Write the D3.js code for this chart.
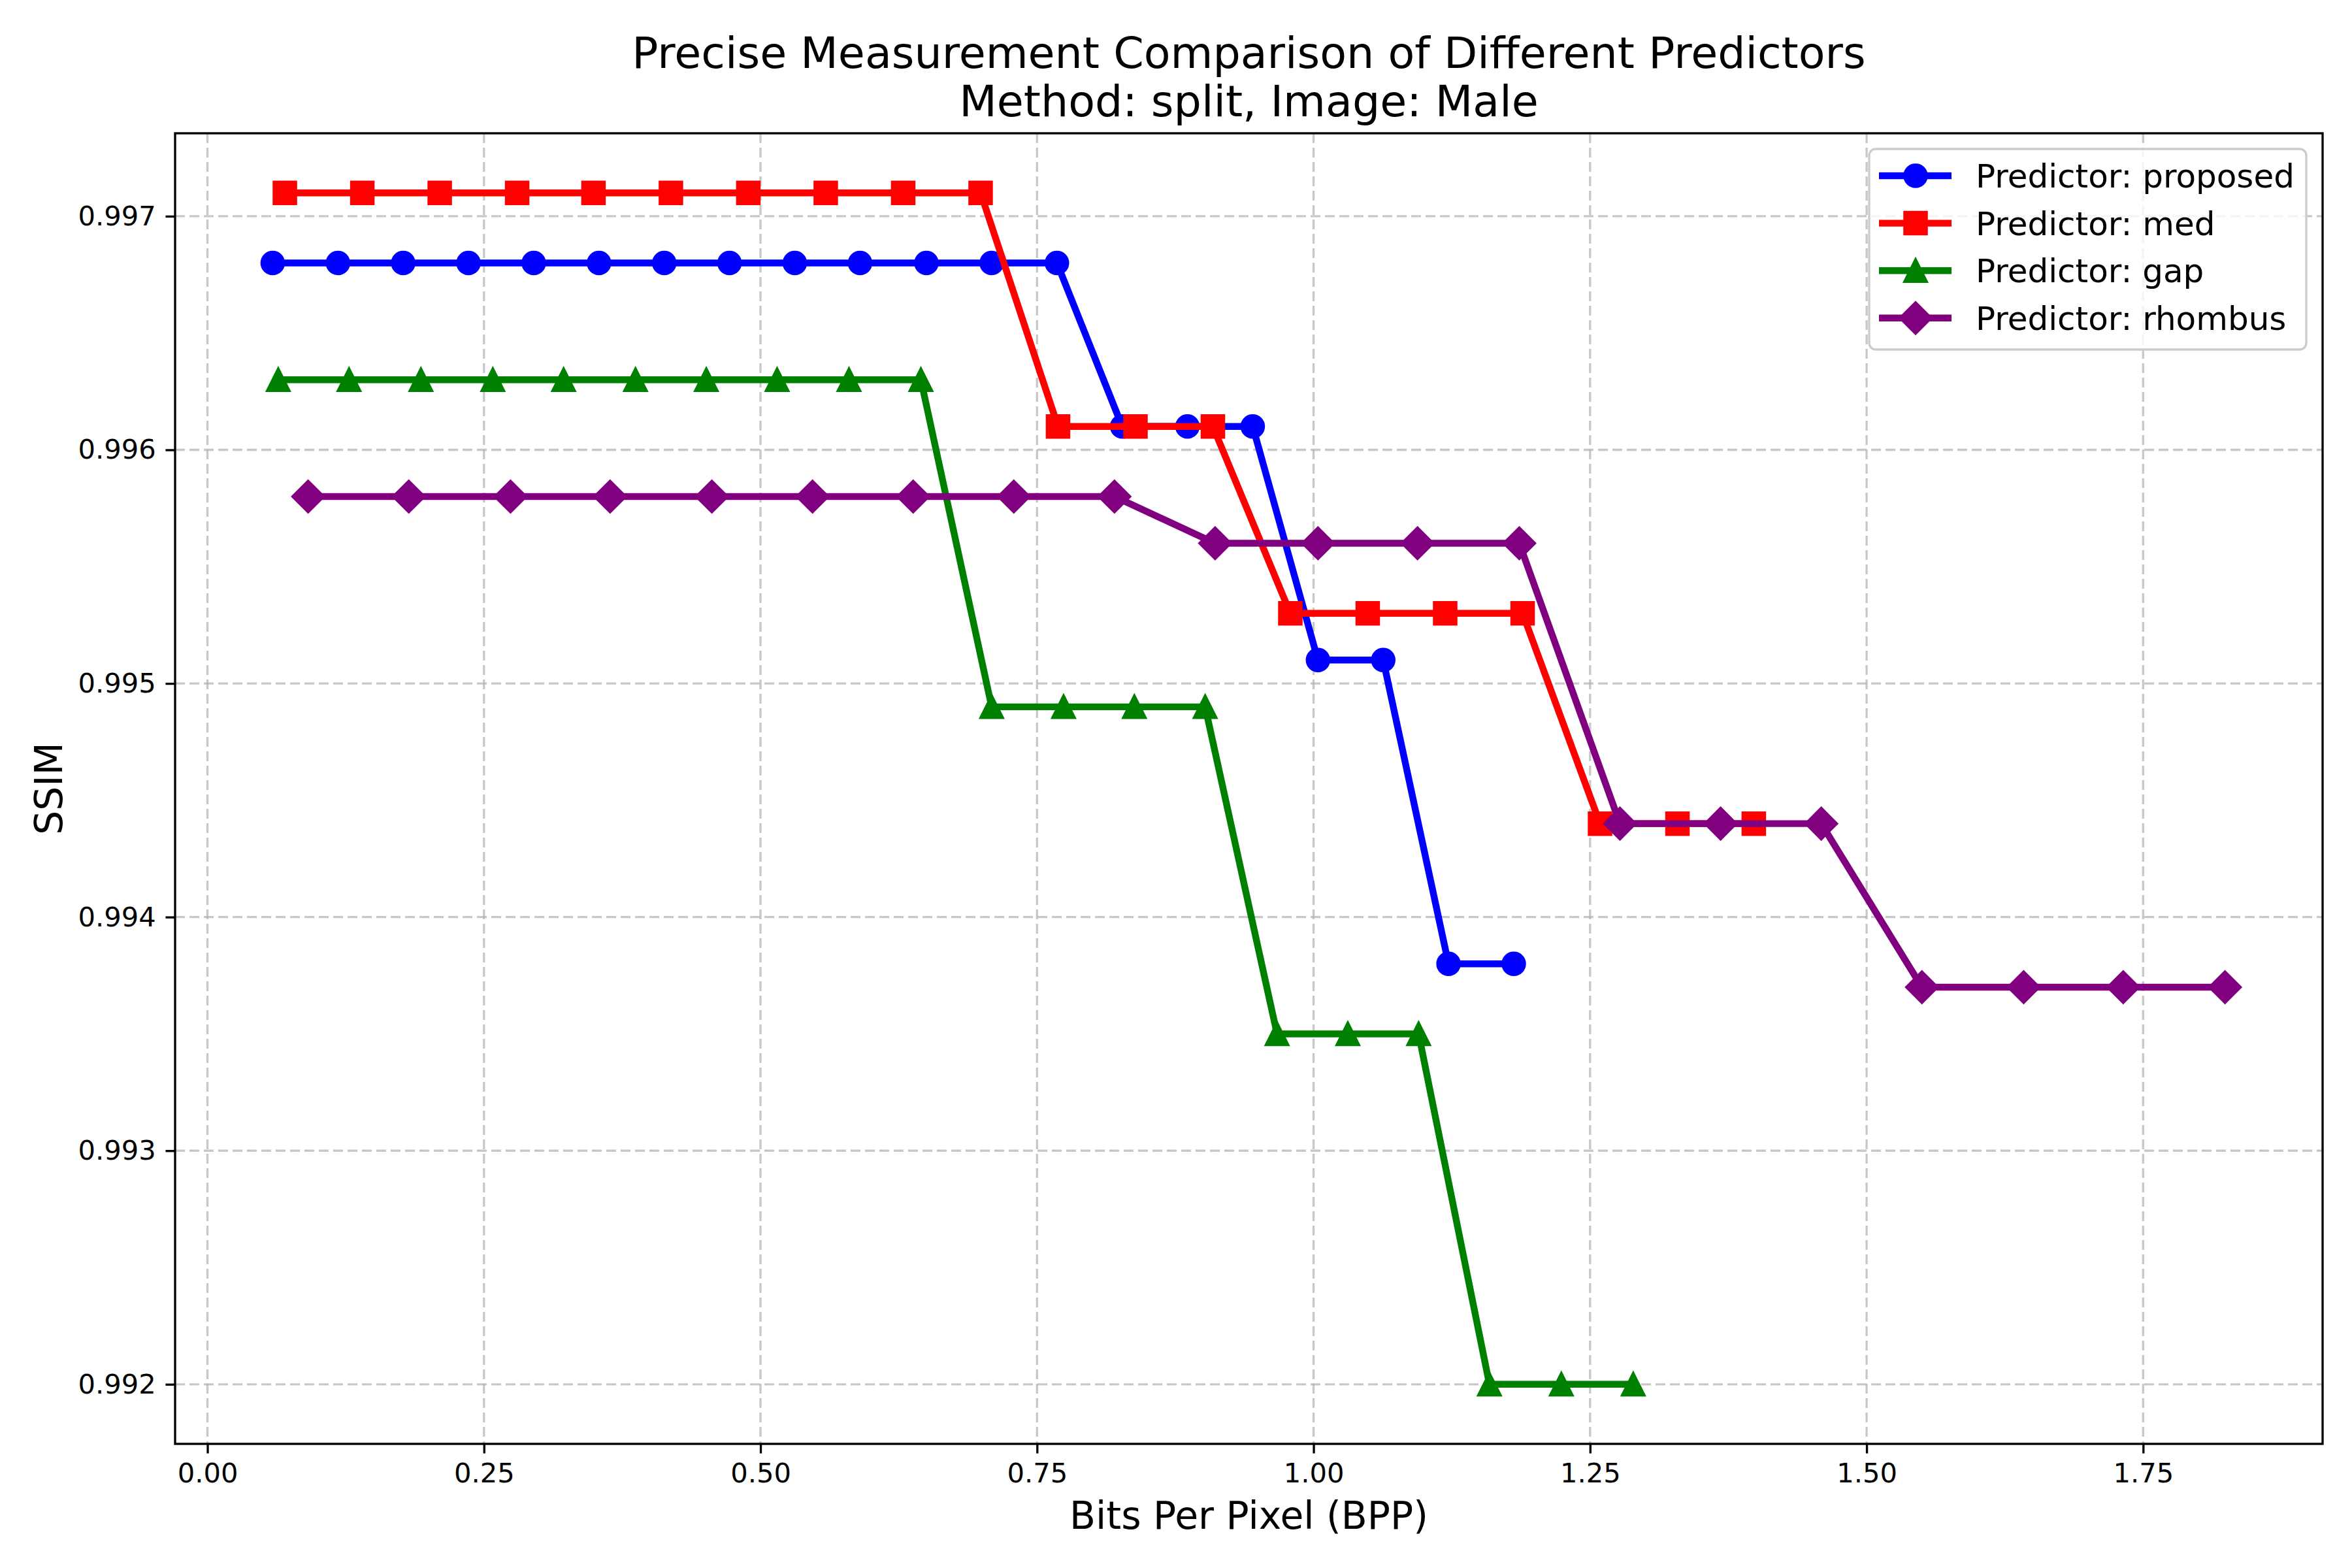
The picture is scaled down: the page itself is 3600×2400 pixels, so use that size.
<!DOCTYPE html>
<html>
<head>
<meta charset="utf-8">
<script src="https://cdn.jsdelivr.net/npm/d3@7"></script>
<style>
  body { margin: 0; background: #fff; }
  svg { display: block; font-family: "DejaVu Sans", sans-serif; }
</style>
</head>
<body>
<div id="chart"></div>
<script>
// data
const proposedX = [0.059, 0.118, 0.177, 0.236, 0.295, 0.354, 0.413, 0.472, 0.531, 0.590,
                   0.650, 0.709, 0.768, 0.827, 0.886, 0.945, 1.004, 1.063, 1.122, 1.181];
const proposedY = [0.9968, 0.9968, 0.9968, 0.9968, 0.9968, 0.9968, 0.9968, 0.9968, 0.9968, 0.9968,
                   0.9968, 0.9968, 0.9968, 0.9961, 0.9961, 0.9961, 0.9951, 0.9951, 0.9938, 0.9938];

const medX = [0.070, 0.140, 0.210, 0.280, 0.349, 0.419, 0.489, 0.559, 0.629, 0.699,
              0.769, 0.839, 0.909, 0.979, 1.049, 1.119, 1.189, 1.259, 1.329, 1.398];
const medY = [0.9971, 0.9971, 0.9971, 0.9971, 0.9971, 0.9971, 0.9971, 0.9971, 0.9971, 0.9971,
              0.9961, 0.9961, 0.9961, 0.9953, 0.9953, 0.9953, 0.9953, 0.9944, 0.9944, 0.9944];

const gapX = [0.064, 0.128, 0.193, 0.258, 0.322, 0.387, 0.451, 0.515, 0.580, 0.645,
              0.709, 0.774, 0.838, 0.902, 0.967, 1.031, 1.095, 1.159, 1.224, 1.289];
const gapY = [0.9963, 0.9963, 0.9963, 0.9963, 0.9963, 0.9963, 0.9963, 0.9963, 0.9963, 0.9963,
              0.9949, 0.9949, 0.9949, 0.9949, 0.9935, 0.9935, 0.9935, 0.9920, 0.9920, 0.9920];

const rhombusX = [0.091, 0.182, 0.274, 0.364, 0.456, 0.547, 0.638, 0.729, 0.820, 0.911,
                  1.004, 1.094, 1.186, 1.277, 1.368, 1.459, 1.550, 1.642, 1.732, 1.824];
const rhombusY = [0.9958, 0.9958, 0.9958, 0.9958, 0.9958, 0.9958, 0.9958, 0.9958, 0.9958, 0.9956,
                  0.9956, 0.9956, 0.9956, 0.9944, 0.9944, 0.9944, 0.9937, 0.9937, 0.9937, 0.9937];

const seriesNames = ["Predictor: proposed", "Predictor: med", "Predictor: gap", "Predictor: rhombus"];
const xTicks = [0.00, 0.25, 0.50, 0.75, 1.00, 1.25, 1.50, 1.75];
const yTicks = [0.992, 0.993, 0.994, 0.995, 0.996, 0.997];

const titleLines = ["Precise Measurement Comparison of Different Predictors", "Method: split, Image: Male"];
const xLabel = "Bits Per Pixel (BPP)";
const yLabel = "SSIM";

// series table
const series = [
    { name: seriesNames[0], xs: proposedX, ys: proposedY, color: "blue", marker: "circle" },
    { name: seriesNames[1], xs: medX, ys: medY, color: "red", marker: "square" },
    { name: seriesNames[2], xs: gapX, ys: gapY, color: "green", marker: "triangle" },
    { name: seriesNames[3], xs: rhombusX, ys: rhombusY, color: "purple", marker: "diamond" }
];

const width = 3600, height = 2400;
const plot = { left: 268, right: 3555, top: 204, bottom: 2210 };
const pt = 300 / 72;

// matplotlib-like 5% margins around the data
const allX = series.flatMap(s => s.xs);
const allY = series.flatMap(s => s.ys);
const xMin = d3.min(allX), xMax = d3.max(allX);
const yMin = d3.min(allY), yMax = d3.max(allY);
const xPad = (xMax - xMin) * 0.05, yPad = (yMax - yMin) * 0.05;

const x = d3.scaleLinear().domain([xMin - xPad, xMax + xPad]).range([plot.left, plot.right]);
const y = d3.scaleLinear().domain([yMin - yPad, yMax + yPad]).range([plot.bottom, plot.top]);

const svg = d3.select("#chart").append("svg")
    .attr("width", width)
    .attr("height", height);

svg.append("rect").attr("width", width).attr("height", height).attr("fill", "#fff");

// grid
const grid = svg.append("g").attr("stroke", "#b0b0b0").attr("stroke-opacity", 0.7)
    .attr("stroke-width", 0.8 * pt).attr("stroke-dasharray", "15,7");
grid.selectAll(".vgrid").data(xTicks).enter().append("line")
    .attr("x1", d => x(d)).attr("x2", d => x(d))
    .attr("y1", plot.top).attr("y2", plot.bottom);
grid.selectAll(".hgrid").data(yTicks).enter().append("line")
    .attr("x1", plot.left).attr("x2", plot.right)
    .attr("y1", d => y(d)).attr("y2", d => y(d));

// marker shapes, half size of 8pt markers
const h = 8 * pt / 2;
function markerPath(kind) {
    if (kind === "circle") return d3.symbol(d3.symbolCircle, Math.PI * h * h)();
    if (kind === "square") return `M${-h},${-h}H${h}V${h}H${-h}Z`;
    if (kind === "triangle") return `M0,${-h}L${-h},${h}L${h},${h}Z`;
    const d = h * Math.SQRT2;
    return `M0,${-d}L${d},0L0,${d}L${-d},0Z`;
}

const line = d3.line().x(d => x(d[0])).y(d => y(d[1]));

// each series: line then its markers
series.forEach(s => {
    const pts = s.xs.map((v, i) => [v, s.ys[i]]);
    const g = svg.append("g");
    g.append("path")
        .datum(pts)
        .attr("d", line)
        .attr("fill", "none")
        .attr("stroke", s.color)
        .attr("stroke-width", 2.5 * pt)
        .attr("stroke-linejoin", "round");
    g.selectAll(".mk").data(pts).enter().append("path")
        .attr("d", markerPath(s.marker))
        .attr("transform", d => `translate(${x(d[0])},${y(d[1])})`)
        .attr("fill", s.color)
        .attr("stroke", s.color)
        .attr("stroke-width", 1 * pt);
});

// axes
const xAxis = svg.append("g")
    .attr("transform", `translate(0,${plot.bottom})`)
    .call(d3.axisBottom(x).tickValues(xTicks).tickFormat(d3.format(".2f"))
        .tickSize(3.5 * pt).tickPadding(3.5 * pt).tickSizeOuter(0));
const yAxis = svg.append("g")
    .attr("transform", `translate(${plot.left},0)`)
    .call(d3.axisLeft(y).tickValues(yTicks).tickFormat(d3.format(".3f"))
        .tickSize(3.5 * pt).tickPadding(3.5 * pt).tickSizeOuter(0));
[xAxis, yAxis].forEach(a => {
    a.select(".domain").remove();
    a.selectAll(".tick line").attr("stroke", "#000").attr("stroke-width", 0.8 * pt);
    a.selectAll(".tick text").attr("fill", "#000")
        .style("font-size", (10 * pt) + "px")
        .style("font-family", "DejaVu Sans");
});

// spines
svg.append("rect")
    .attr("x", plot.left).attr("y", plot.top)
    .attr("width", plot.right - plot.left).attr("height", plot.bottom - plot.top)
    .attr("fill", "none").attr("stroke", "#000").attr("stroke-width", 0.8 * pt);

// labels
const cx = (plot.left + plot.right) / 2;
svg.append("text")
    .attr("x", cx).attr("y", 2340)
    .attr("text-anchor", "middle")
    .style("font-size", (14 * pt) + "px")
    .text(xLabel);
svg.append("text")
    .attr("transform", `translate(95,${(plot.top + plot.bottom) / 2}) rotate(-90)`)
    .attr("text-anchor", "middle")
    .style("font-size", (14 * pt) + "px")
    .text(yLabel);
svg.selectAll(".title").data(titleLines).enter().append("text")
    .attr("x", cx)
    .attr("y", (d, i) => 104 + i * 74)
    .attr("text-anchor", "middle")
    .style("font-size", (16 * pt) + "px")
    .text(d => d);

// legend
const legend = svg.append("g");
legend.append("rect")
    .attr("x", 2861).attr("y", 228).attr("width", 669).attr("height", 307)
    .attr("rx", 10).attr("ry", 10)
    .attr("fill", "#fff").attr("fill-opacity", 0.8)
    .attr("stroke", "#cccccc").attr("stroke-width", 0.8 * pt);
const rows = legend.selectAll(".row").data(series).enter().append("g")
    .attr("transform", (d, i) => `translate(0,${269 + i * 72.6})`);
rows.append("line")
    .attr("x1", 2876).attr("x2", 2987).attr("y1", 0).attr("y2", 0)
    .attr("stroke", d => d.color).attr("stroke-width", 2.5 * pt);
rows.append("path")
    .attr("d", d => markerPath(d.marker))
    .attr("transform", "translate(2932,0)")
    .attr("fill", d => d.color).attr("stroke", d => d.color).attr("stroke-width", 1 * pt);
rows.append("text")
    .attr("x", 3024).attr("y", 18)
    .style("font-size", (12 * pt) + "px")
    .text(d => d.name);
</script>
</body>
</html>
